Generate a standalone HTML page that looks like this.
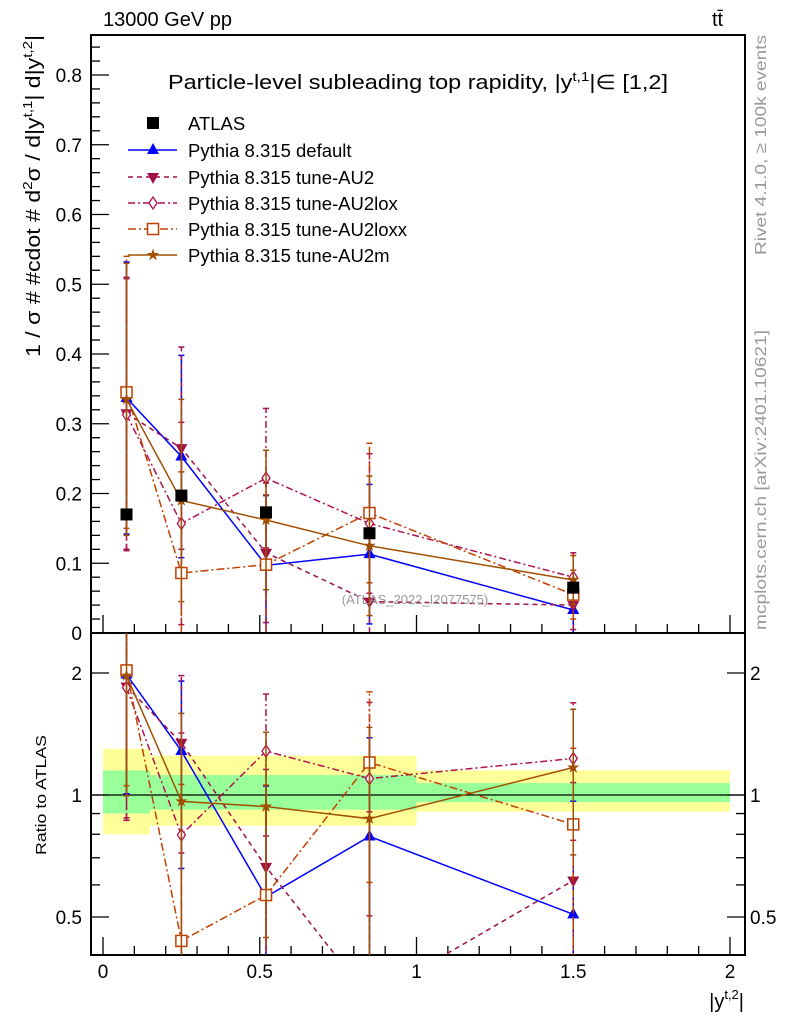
<!DOCTYPE html>
<html><head><meta charset="utf-8">
<style>
html,body{margin:0;background:#fff;overflow:hidden;width:786px;height:1024px;}
svg{display:block;font-family:"Liberation Sans",sans-serif;}
</style></head>
<body>
<svg id="c" width="786" height="1024" viewBox="0 0 786 1024" xmlns="http://www.w3.org/2000/svg">
<rect width="786" height="1024" fill="#fff"/>
<g id="bands"></g>
<g id="axes"></g>
<g id="series"></g>
<text x="103" y="26" font-size="20">13000 GeV pp</text>
<text x="712" y="26" font-size="20">tt̄</text>
<text x="168" y="89" font-size="20" textLength="500" lengthAdjust="spacingAndGlyphs">Particle-level subleading top rapidity, |y<tspan dy="-8" font-size="13">t,1</tspan><tspan dy="8">|∈ [1,2]</tspan></text>
<text x="415" y="604" font-size="13" fill="#999" text-anchor="middle">(ATLAS_2022_I2077575)</text>
<text transform="translate(40,357) rotate(-90)" font-size="20" textLength="322" lengthAdjust="spacingAndGlyphs">1 / σ # #cdot # d<tspan dy="-8" font-size="13">2</tspan><tspan dy="8">σ / d|y</tspan><tspan dy="-8" font-size="13">t,1</tspan><tspan dy="8">| d|y</tspan><tspan dy="-8" font-size="13">t,2</tspan><tspan dy="8">|</tspan></text>
<text transform="translate(46,855) rotate(-90)" font-size="15" textLength="120" lengthAdjust="spacingAndGlyphs">Ratio to ATLAS</text>
<text x="744" y="1008" font-size="20" text-anchor="end">|y<tspan dy="-9" font-size="13">t,2</tspan><tspan dy="9">|</tspan></text>
<text transform="translate(766,255) rotate(-90)" font-size="16" fill="#999" textLength="220" lengthAdjust="spacingAndGlyphs">Rivet 4.1.0, ≥ 100k events</text>
<text transform="translate(766,630) rotate(-90)" font-size="16" fill="#999" textLength="300" lengthAdjust="spacingAndGlyphs">mcplots.cern.ch [arXiv:2401.10621]</text>
<g id="legend"></g>
</svg>
<script>
const xVals=[0.075,0.25,0.52,0.85,1.5];
const atlas=[0.170,0.197,0.173,0.143,0.065];
const seriesNames=["Pythia 8.315 default","Pythia 8.315 tune-AU2","Pythia 8.315 tune-AU2lox","Pythia 8.315 tune-AU2loxx","Pythia 8.315 tune-AU2m"];
const vDefault=[0.337,0.253,0.097,0.113,0.033];
const vAU2=[0.315,0.265,0.115,0.045,0.040];
const vAU2lox=[0.313,0.157,0.222,0.157,0.080];
const vAU2loxx=[0.345,0.086,0.098,0.172,0.055];
const vAU2m=[0.335,0.190,0.162,0.125,0.076];
const errMC=[0.195,0.145,0.1,0.1,0.035];
const bandEdges=[0,0.15,1,2];
const yellowLo=[0.80,0.84,0.91];
const yellowHi=[1.30,1.25,1.15];
const greenLo=[0.90,0.92,0.96];
const greenHi=[1.15,1.12,1.07];
const yTicks=[0,0.1,0.2,0.3,0.4,0.5,0.6,0.7,0.8];
const rTicks=[0.5,1,2];
const xTicks=[0,0.5,1,1.5,2];

const NS="http://www.w3.org/2000/svg";
const X=v=>103+v*313.5;
const Y=v=>633-v*697.5;
const R=v=>795-Math.log2(v)*122;
const L=91,Rt=745,T=35,MB=633,B=955;
function mk(tag,attrs,parent){const e=document.createElementNS(NS,tag);for(const k in attrs)e.setAttribute(k,attrs[k]);parent.appendChild(e);return e;}
const svg=document.getElementById('c');
const gB=document.getElementById('bands'),gA=document.getElementById('axes'),gS=document.getElementById('series'),gL=document.getElementById('legend');

const defs=mk('defs',{},svg);
const cp1=mk('clipPath',{id:'cm'},defs);mk('rect',{x:L,y:T,width:Rt-L,height:MB-T},cp1);
const cp2=mk('clipPath',{id:'cr'},defs);mk('rect',{x:L,y:MB,width:Rt-L,height:B-MB},cp2);

for(let i=0;i<3;i++){
  const y=mk('rect',{x:X(bandEdges[i]),y:R(yellowHi[i]),width:X(bandEdges[i+1])-X(bandEdges[i]),height:R(yellowLo[i])-R(yellowHi[i]),fill:'#ffff99'},gB);
  
  
}
for(let i=0;i<3;i++){
  const g=mk('rect',{x:X(bandEdges[i]),y:R(greenHi[i]),width:X(bandEdges[i+1])-X(bandEdges[i]),height:R(greenLo[i])-R(greenHi[i]),fill:'#99ff99'},gB);
  
  
}
mk('line',{x1:L,x2:Rt,y1:R(1),y2:R(1),stroke:'#000','stroke-width':1.3},gB);

const f1=mk('rect',{x:L,y:T,width:Rt-L,height:MB-T,fill:'none',stroke:'#000','stroke-width':2},gA);


const f2=mk('rect',{x:L,y:MB,width:Rt-L,height:B-MB,fill:'none',stroke:'#000','stroke-width':2},gA);



for(let v=0;v<=0.85;v+=0.02){
  const major=Math.abs(v*10-Math.round(v*10))<1e-6;
  const len=major?18:9;
  mk('line',{x1:L,x2:L+len,y1:Y(v),y2:Y(v),stroke:'#000','stroke-width':1.3},gA);
}
yTicks.forEach(v=>{
  const t=mk('text',{x:82,y:Y(v)+7,'font-size':19,'text-anchor':'end'},gA);t.textContent=v===0?'0':v.toFixed(1);
  
  
});
[0.5,0.6,0.7,0.8,0.9,1,2].forEach(v=>{
  const major=rTicks.includes(v);const len=major?18:9;
  mk('line',{x1:L,x2:L+len,y1:R(v),y2:R(v),stroke:'#000','stroke-width':1.3},gA);
  mk('line',{x1:Rt,x2:Rt-len,y1:R(v),y2:R(v),stroke:'#000','stroke-width':1.3},gA);
});
rTicks.forEach(v=>{
  const t=mk('text',{x:82,y:R(v)+7,'font-size':19,'text-anchor':'end'},gA);t.textContent=String(v);
  
  
  const t2=mk('text',{x:750,y:R(v)+7,'font-size':19},gA);t2.textContent=String(v);
  
  
});
for(let i=0;i<=20;i++){
  const v=i*0.1;const major=i%5===0;const len=major?18:9;
  mk('line',{x1:X(v),x2:X(v),y1:MB,y2:MB-len,stroke:'#000','stroke-width':1.3},gA);
  mk('line',{x1:X(v),x2:X(v),y1:B,y2:B-len,stroke:'#000','stroke-width':1.3},gA);
}
xTicks.forEach(v=>{
  const t=mk('text',{x:X(v),y:978,'font-size':19,'text-anchor':'middle'},gA);t.textContent=String(v);
  
  
});

const styles=[
 {vals:vDefault,color:'#0000ff',dash:'',marker:'tri'},
 {vals:vAU2,color:'#a0104a',dash:'5,4',marker:'tridown'},
 {vals:vAU2lox,color:'#b01050',dash:'7,3,2,3',marker:'diamond'},
 {vals:vAU2loxx,color:'#c04000',dash:'8,3,2,3',marker:'square'},
 {vals:vAU2m,color:'#a05000',dash:'',marker:'star'}
];
function marker(type,x,y,c,g){
  if(type==='tri')return mk('polygon',{points:`${x},${y-7} ${x-6},${y+4} ${x+6},${y+4}`,fill:c},g);
  if(type==='tridown')return mk('polygon',{points:`${x},${y+7} ${x-6},${y-4} ${x+6},${y-4}`,fill:c},g);
  if(type==='diamond')return mk('polygon',{points:`${x},${y-6} ${x-4},${y} ${x},${y+6} ${x+4},${y}`,fill:'#fff',stroke:c,'stroke-width':1.3},g);
  if(type==='square')return mk('rect',{x:x-5.5,y:y-5.5,width:11,height:11,fill:'#fff',stroke:c,'stroke-width':1.5},g);
  let p='';for(let k=0;k<10;k++){const r=k%2?2.5:6.5;const a=-Math.PI/2+k*Math.PI/5;p+=`${x+r*Math.cos(a)},${y+r*Math.sin(a)} `;}
  return mk('polygon',{points:p,fill:c},g);
}
function drawPanel(ymap,clip,valsFn,errFn,panel){
  const g=mk('g',{'clip-path':`url(#${clip})`},gS);
  styles.forEach((s,si)=>{
    const vals=valsFn(s,si);
    const sg=mk('g',{},g);
    
    
    let pts=vals.map((v,i)=>`${X(xVals[i])},${ymap(Math.max(v,1e-3))}`).join(' ');
    mk('polyline',{points:pts,fill:'none',stroke:s.color,'stroke-width':1.5,'stroke-dasharray':s.dash},sg);
    vals.forEach((v,i)=>{
      const e=errFn(v,i);
      const x=X(xVals[i]);
      mk('line',{x1:x,x2:x,y1:ymap(Math.max(v-e,1e-3)),y2:ymap(v+e),stroke:s.color,'stroke-width':1.5,'stroke-dasharray':s.dash},sg);
      mk('line',{x1:x-3,x2:x+3,y1:ymap(v+e),y2:ymap(v+e),stroke:s.color,'stroke-width':1.5},sg);
      if(v-e>0)mk('line',{x1:x-3,x2:x+3,y1:ymap(v-e),y2:ymap(v-e),stroke:s.color,'stroke-width':1.5},sg);
      const m=marker(s.marker,x,ymap(Math.max(v,1e-3)),s.color,sg);
      
      
    });
  });
  return g;
}
const gm=drawPanel(Y,'cm',s=>s.vals,(v,i)=>errMC[i],'main');
atlas.forEach((v,i)=>{
  const r=mk('rect',{x:X(xVals[i])-6,y:Y(v)-6,width:12,height:12,fill:'#000'},gm);
  
  
});
drawPanel(R,'cr',(s)=>s.vals.map((v,i)=>v/atlas[i]),(v,i)=>errMC[i]/atlas[i]*0.85,'ratio');

const legY=[123,150,177,203,229,255];
const lt=mk('rect',{x:147,y:legY[0]-6,width:12,height:12,fill:'#000'},gL);


const t0=mk('text',{x:188,y:legY[0]+7,'font-size':18.5},gL);t0.textContent='ATLAS';


styles.forEach((s,i)=>{
  const y=legY[i+1];
  mk('line',{x1:128,x2:177,y1:y,y2:y,stroke:s.color,'stroke-width':1.5,'stroke-dasharray':s.dash},gL);
  marker(s.marker,153,y,s.color,gL);
  const t=mk('text',{x:188,y:y+7,'font-size':18.5},gL);t.textContent=seriesNames[i];
  
  
});
</script>
</body></html>
